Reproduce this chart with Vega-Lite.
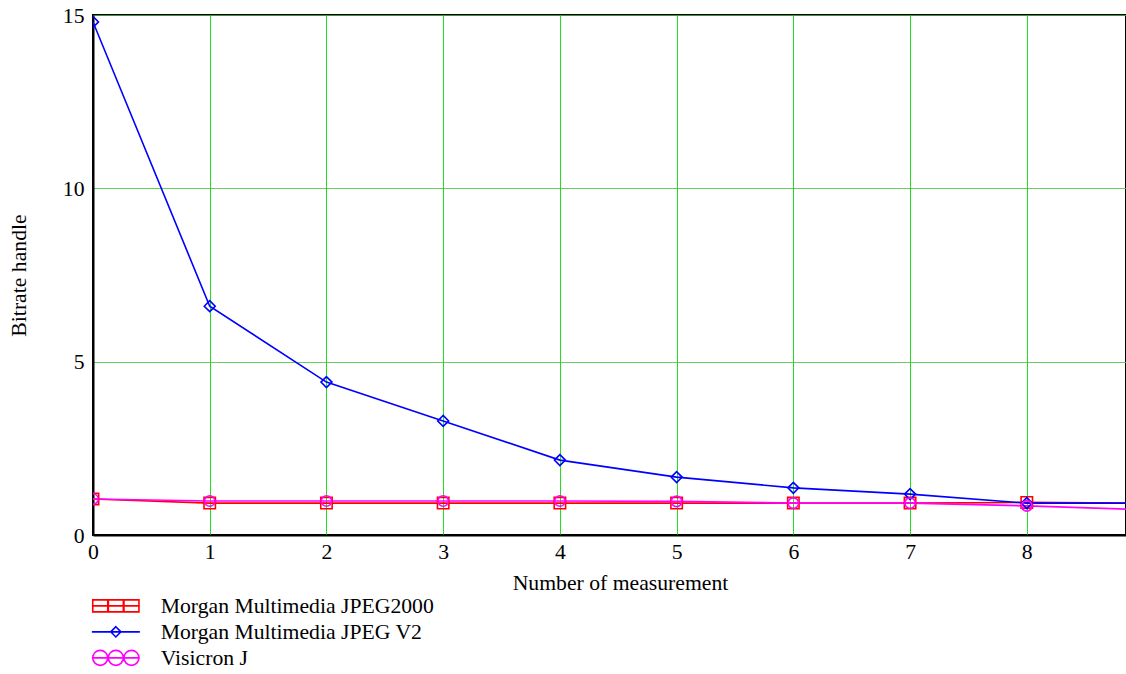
{
  "$schema": "https://vega.github.io/schema/vega-lite/v6.json",
  "width": 1033,
  "height": 520,
  "autosize": {"type": "none"},
  "padding": {"left": 93, "top": 15, "right": 0, "bottom": 139},
  "background": "white",
  "config": {
    "font": "Liberation Serif",
    "view": {"stroke": "black", "strokeWidth": 2},
    "axis": {"labelFont": "Liberation Serif", "titleFont": "Liberation Serif", "labelFontSize": 21.7, "titleFontSize": 21.7, "titleFontWeight": "normal", "labelColor": "black", "titleColor": "black", "domainColor": "black", "domainWidth": 2, "ticks": false}
  },
  "data": {
    "values": [
      {"x": 0, "y": 1.04, "series": "Morgan Multimedia JPEG2000"},
      {"x": 1, "y": 0.92, "series": "Morgan Multimedia JPEG2000"},
      {"x": 2, "y": 0.92, "series": "Morgan Multimedia JPEG2000"},
      {"x": 3, "y": 0.92, "series": "Morgan Multimedia JPEG2000"},
      {"x": 4, "y": 0.92, "series": "Morgan Multimedia JPEG2000"},
      {"x": 5, "y": 0.92, "series": "Morgan Multimedia JPEG2000"},
      {"x": 6, "y": 0.92, "series": "Morgan Multimedia JPEG2000"},
      {"x": 7, "y": 0.92, "series": "Morgan Multimedia JPEG2000"},
      {"x": 8, "y": 0.94, "series": "Morgan Multimedia JPEG2000"},
      {"x": 9, "y": 0.92, "series": "Morgan Multimedia JPEG2000"},
      {"x": 0, "y": 14.8, "series": "Morgan Multimedia JPEG V2"},
      {"x": 1, "y": 6.6, "series": "Morgan Multimedia JPEG V2"},
      {"x": 2, "y": 4.41, "series": "Morgan Multimedia JPEG V2"},
      {"x": 3, "y": 3.29, "series": "Morgan Multimedia JPEG V2"},
      {"x": 4, "y": 2.16, "series": "Morgan Multimedia JPEG V2"},
      {"x": 5, "y": 1.67, "series": "Morgan Multimedia JPEG V2"},
      {"x": 6, "y": 1.36, "series": "Morgan Multimedia JPEG V2"},
      {"x": 7, "y": 1.18, "series": "Morgan Multimedia JPEG V2"},
      {"x": 8, "y": 0.92, "series": "Morgan Multimedia JPEG V2"},
      {"x": 9, "y": 0.92, "series": "Morgan Multimedia JPEG V2"},
      {"x": 0, "y": 1.04, "series": "Visicron J"},
      {"x": 1, "y": 0.98, "series": "Visicron J"},
      {"x": 2, "y": 0.98, "series": "Visicron J"},
      {"x": 3, "y": 0.98, "series": "Visicron J"},
      {"x": 4, "y": 0.98, "series": "Visicron J"},
      {"x": 5, "y": 0.97, "series": "Visicron J"},
      {"x": 6, "y": 0.92, "series": "Visicron J"},
      {"x": 7, "y": 0.92, "series": "Visicron J"},
      {"x": 8, "y": 0.84, "series": "Visicron J"},
      {"x": 9, "y": 0.73, "series": "Visicron J"}
    ]
  },
  "encoding": {
    "x": {
      "field": "x", "type": "quantitative",
      "scale": {"domain": [0, 8.85], "nice": false, "zero": false},
      "axis": {"values": [0, 1, 2, 3, 4, 5, 6, 7, 8], "title": "Number of measurement", "grid": true, "gridColor": "#22dd22", "gridWidth": 1, "gridOpacity": 1, "labelPadding": 6, "titlePadding": 10, "titleX": 527, "labelFlush": false}
    },
    "y": {
      "field": "y", "type": "quantitative",
      "scale": {"domain": [0, 15], "nice": false},
      "axis": {"values": [0, 5, 10, 15], "title": "Bitrate handle", "grid": true, "gridColor": "#3cc03c", "gridWidth": 0.8, "gridOpacity": 1, "labelPadding": 9, "titlePadding": 32, "labelFlush": false}
    },
    "color": {
      "field": "series", "type": "nominal",
      "scale": {"domain": ["Morgan Multimedia JPEG2000", "Morgan Multimedia JPEG V2", "Visicron J"], "range": ["#ff0000", "#0000ff", "#ff00ff"]},
      "legend": {
        "title": null,
        "orient": "none",
        "legendX": 12,
        "legendY": 580,
        "labelFont": "Liberation Serif",
        "labelFontSize": 21.7,
        "labelColor": "black",
        "labelLimit": 600,
        "symbolSize": 144,
        "symbolStrokeWidth": 1.6,
        "symbolFillColor": "transparent",
        "labelOffset": 34,
        "rowPadding": 3,
        "symbolType": {"expr": "datum.value === 'Morgan Multimedia JPEG2000' ? 'M-4,0H4M-3.85,-1H-1.35V1H-3.85ZM-1.25,-1H1.25V1H-1.25ZM1.35,-1H3.85V1H1.35Z' : datum.value === 'Morgan Multimedia JPEG V2' ? 'M-4,0H4M0,-0.85L0.85,0L0,0.85L-0.85,0Z' : 'M-4,0H4M-3.85,0a1.25,1.25 0 1,0 2.5,0a1.25,1.25 0 1,0 -2.5,0M-1.25,0a1.25,1.25 0 1,0 2.5,0a1.25,1.25 0 1,0 -2.5,0M1.35,0a1.25,1.25 0 1,0 2.5,0a1.25,1.25 0 1,0 -2.5,0'"}
      }
    }
  },
  "layer": [
    {
      "mark": {"type": "line", "strokeWidth": 1.6, "clip": true}
    },
    {
      "transform": [{"filter": "datum.x <= 8 && datum.series === 'Morgan Multimedia JPEG2000'"}],
      "mark": {"type": "point", "shape": "square", "filled": false, "strokeWidth": 1.6, "opacity": 1, "size": 130, "clip": true}
    },
    {
      "transform": [{"filter": "datum.x <= 8 && datum.series === 'Morgan Multimedia JPEG V2'"}],
      "mark": {"type": "point", "shape": "diamond", "filled": false, "strokeWidth": 1.6, "opacity": 1, "size": 120, "clip": true}
    },
    {
      "transform": [{"filter": "datum.x <= 8 && datum.series === 'Visicron J'"}],
      "mark": {"type": "point", "shape": "circle", "filled": false, "strokeWidth": 1.6, "opacity": 1, "size": 110, "clip": true}
    }
  ]
}
